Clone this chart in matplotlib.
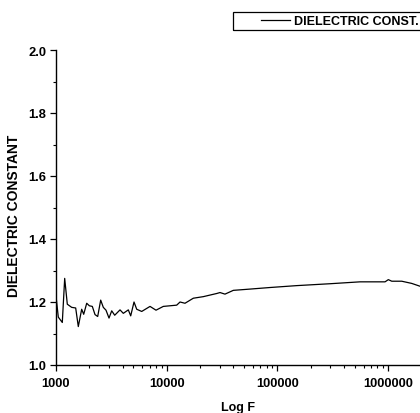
import matplotlib
matplotlib.use("Agg")
import matplotlib.pyplot as plt
from matplotlib.patches import Rectangle
from matplotlib.ticker import FixedLocator, NullFormatter, MultipleLocator

plt.rcParams["font.family"] = ["Liberation Sans", "DejaVu Sans"]
plt.rcParams["font.weight"] = "bold"

# Frequency (Hz) and dielectric constant
freq = [1000, 1049, 1140, 1198, 1265, 1386, 1506, 1590, 1706, 1779,
        1894, 2000, 2128, 2251, 2380, 2533, 2675, 2829, 3012, 3186,
        3391, 3786, 4055, 4500, 4729, 5066, 5358, 5946, 7068, 8004,
        9318, 12310, 13190, 14630, 17390, 21410, 28290, 30300, 33600,
        39970, 56560, 85770, 149400, 298700, 557500, 937600, 1004000,
        1078000, 1327000, 1634000, 1942000]
eps = [1.219, 1.152, 1.135, 1.275, 1.193, 1.183, 1.181, 1.122, 1.177, 1.161,
       1.196, 1.188, 1.186, 1.160, 1.154, 1.206, 1.183, 1.174, 1.149, 1.172,
       1.158, 1.175, 1.164, 1.175, 1.156, 1.200, 1.177, 1.170, 1.186, 1.174,
       1.186, 1.190, 1.200, 1.196, 1.212, 1.217, 1.227, 1.230, 1.225,
       1.237, 1.241, 1.246, 1.252, 1.258, 1.264, 1.264, 1.271,
       1.266, 1.266, 1.259, 1.250]

x_ticks = [1000, 10000, 100000, 1000000]
x_labels = ["1000", "10000", "100000", "1000000"]

fig = plt.figure(figsize=(4.2, 4.14), dpi=100)
ax = fig.add_axes([56 / 420, 48 / 414, 364 / 420, 315 / 414])

ax.plot(freq, eps, color="black", lw=0.9, label="DIELECTRIC CONST.")

ax.set_xscale("log")
ax.set_xlim(1000, 1.94e6)
ax.set_ylim(1.0, 2.0)

ax.xaxis.set_major_locator(FixedLocator(x_ticks))
ax.set_xticklabels(x_labels)
minor = [m * 10 ** e for e in range(3, 7) for m in range(2, 10)]
ax.xaxis.set_minor_locator(FixedLocator(minor))
ax.xaxis.set_minor_formatter(NullFormatter())
ax.yaxis.set_major_locator(MultipleLocator(0.2))
ax.yaxis.set_minor_locator(MultipleLocator(0.1))
ax.yaxis.set_major_formatter(plt.FormatStrFormatter("%.1f"))

for s in ["top", "right"]:
    ax.spines[s].set_visible(False)
for s in ["left", "bottom"]:
    ax.spines[s].set_linewidth(1.0)

ax.tick_params(which="major", direction="out", length=4, width=0.9,
               labelsize=9.3, pad=3)
ax.tick_params(which="minor", direction="out", length=2, width=0.8)
ax.tick_params(axis="x", which="major", pad=5)

ax.set_xlabel("Log F", fontsize=9, fontweight="bold")
ax.xaxis.set_label_coords(0.5, -36 / 315)
ax.set_ylabel("DIELECTRIC CONSTANT", fontsize=10, fontweight="bold")
ax.yaxis.set_label_coords(-35 / 364, 0.476)

# legend box in Origin style, cut off at the right edge
fig.patches.append(Rectangle((233 / 420, 1 - 31 / 414), 200 / 420, 18 / 414,
                             transform=fig.transFigure, fill=False,
                             edgecolor="black", lw=0.9))
fig.legend(loc="center left", bbox_to_anchor=(255 / 420, 1 - 22 / 414),
           frameon=False, borderpad=0, handlelength=2.3, handletextpad=0.3,
           prop={"size": 9, "weight": "bold"})

fig.savefig("out.png", dpi=100)
